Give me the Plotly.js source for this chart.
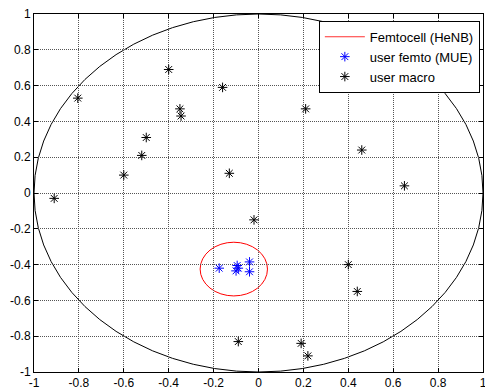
<!DOCTYPE html>
<html>
<head>
<meta charset="utf-8">
<script src="https://cdn.plot.ly/plotly-3.0.1.min.js"></script>
<style>html,body{margin:0;padding:0;background:#fff;}#chart{width:485px;height:391px;}</style>
</head>
<body>
<div id="chart"></div>
<script>
// Macro users
var macroX = [-0.91, -0.805, -0.60, -0.52, -0.50, -0.40, -0.35, -0.345, -0.16, -0.13, 0.21, 0.46, 0.65, -0.02, 0.40, 0.44, 0.19, 0.22, -0.09];
var macroY = [-0.03, 0.53, 0.10, 0.21, 0.31, 0.69, 0.47, 0.43, 0.59, 0.11, 0.47, 0.24, 0.04, -0.15, -0.40, -0.55, -0.84, -0.91, -0.83];
// Femto users
var femtoX = [-0.175, -0.095, -0.10, -0.09, -0.04, -0.04];
var femtoY = [-0.42, -0.405, -0.435, -0.42, -0.385, -0.44];
// Femtocell coverage (center, radius)
var femtoCenter = [-0.11, -0.425];
var femtoRadius = 0.15;
// Macrocell coverage
var macroCenter = [0, 0];
var macroRadius = 1;
var tickVals = [-1, -0.8, -0.6, -0.4, -0.2, 0, 0.2, 0.4, 0.6, 0.8, 1];
var tickText = ['-1', '-0.8', '-0.6', '-0.4', '-0.2', '0', '0.2', '0.4', '0.6', '0.8', '1'];

var traces = [
  {x: [null], y: [null], mode: 'lines', name: 'Femtocell (HeNB)', line: {color: '#ff3030', width: 1}},
  {x: femtoX, y: femtoY, mode: 'markers', name: 'user femto (MUE)', marker: {symbol: 'asterisk-open', size: 8, color: '#0000ff', line: {color: '#0000ff', width: 1}}},
  {x: macroX, y: macroY, mode: 'markers', name: 'user macro', marker: {symbol: 'asterisk-open', size: 8, color: '#000000', line: {color: '#000000', width: 1}}}
];

var axisCommon = {
  range: [-1, 1],
  tickvals: tickVals,
  ticktext: tickText,
  ticks: 'inside',
  ticklen: 4,
  tickcolor: '#000',
  showline: true,
  linecolor: '#000',
  linewidth: 1,
  mirror: 'ticks',
  showgrid: true,
  gridcolor: '#555',
  griddash: '1px,1px',
  gridwidth: 1,
  zeroline: false,
  ticklabeloverflow: 'allow',
  tickfont: {family: 'Liberation Sans, Arial, sans-serif', size: 12, color: '#000'},
  fixedrange: true
};

var layout = {
  width: 485,
  height: 391,
  margin: {l: 34, r: 2, t: 14, b: 19, pad: 0},
  paper_bgcolor: '#fff',
  plot_bgcolor: '#fff',
  font: {family: 'Liberation Sans, Arial, sans-serif', size: 12, color: '#000'},
  xaxis: Object.assign({}, axisCommon),
  yaxis: Object.assign({}, axisCommon),
  showlegend: true,
  legend: {
    x: 0.993, y: 0.981, xanchor: 'right', yanchor: 'top',
    bgcolor: '#fff', bordercolor: '#000', borderwidth: 1,
    itemwidth: 40,
    font: {family: 'Liberation Sans, Arial, sans-serif', size: 13, color: '#000'},
    tracegroupgap: 0
  },
  shapes: [
    {type: 'circle', xref: 'x', yref: 'y',
     x0: macroCenter[0] - macroRadius, x1: macroCenter[0] + macroRadius,
     y0: macroCenter[1] - macroRadius, y1: macroCenter[1] + macroRadius,
     line: {color: '#000', width: 1}, layer: 'below'},
    {type: 'circle', xref: 'x', yref: 'y',
     x0: femtoCenter[0] - femtoRadius, x1: femtoCenter[0] + femtoRadius,
     y0: femtoCenter[1] - femtoRadius, y1: femtoCenter[1] + femtoRadius,
     line: {color: '#ff0000', width: 1}, layer: 'below'}
  ]
};

Plotly.newPlot('chart', traces, layout, {displayModeBar: false, staticPlot: true});
</script>
</body>
</html>
